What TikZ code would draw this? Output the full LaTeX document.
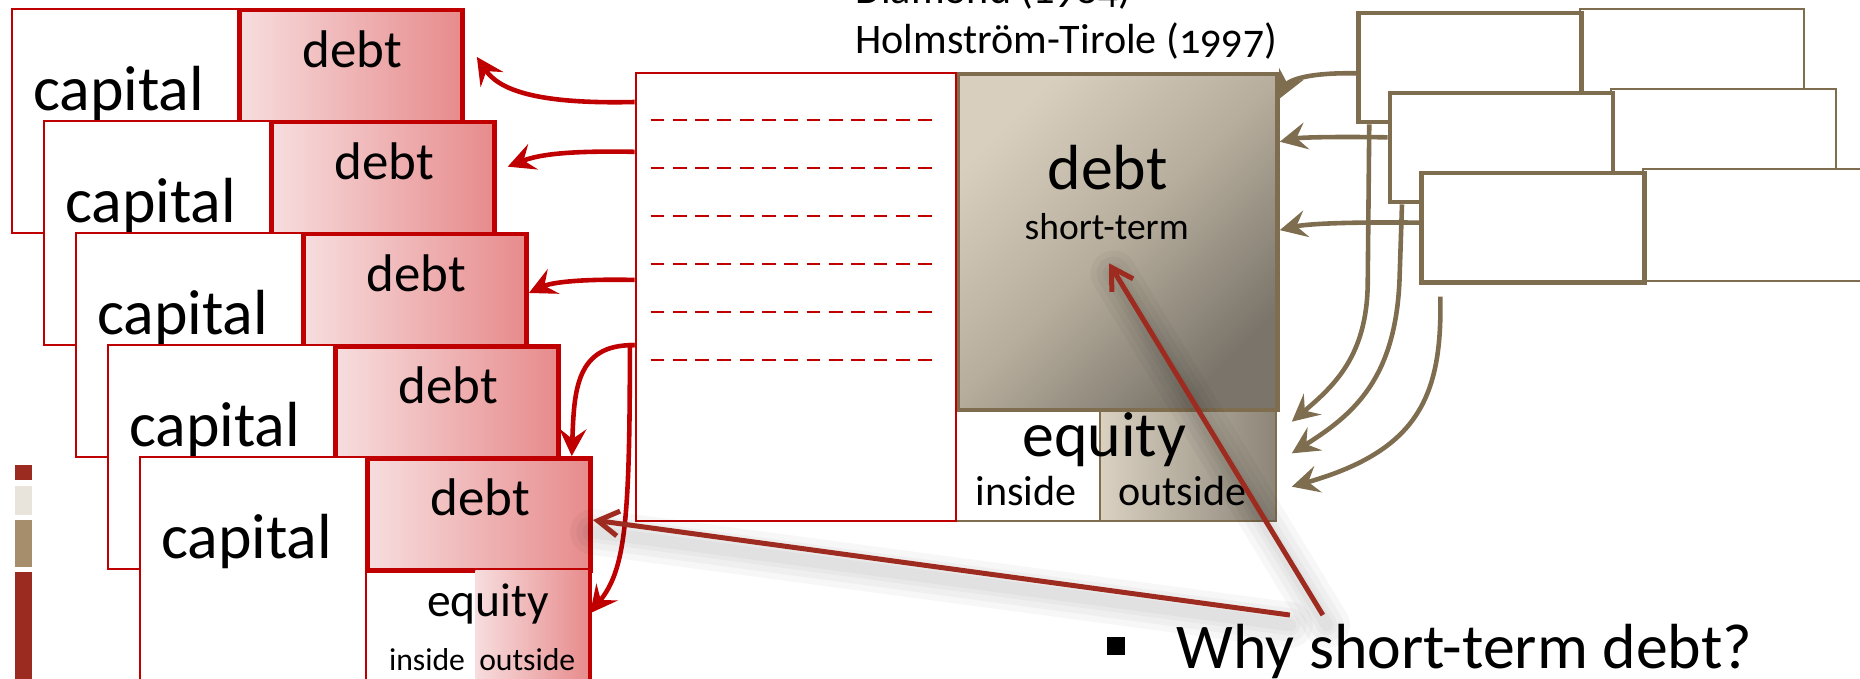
\documentclass[tikz,border=0pt]{standalone}
\usepackage{fontspec}
\setmainfont{Carlito}[Numbers=OldStyle]
\usetikzlibrary{arrows.meta,calc}

\definecolor{capred}{HTML}{C00000}
\definecolor{debtlight}{HTML}{F7DDDE}
\definecolor{debtdark}{HTML}{E78B8C}
\definecolor{linered}{HTML}{9E2B20}
\definecolor{brownline}{HTML}{7F6D4F}
\definecolor{stlight}{HTML}{D8CFBE}
\definecolor{stmid}{HTML}{B6AD9C}
\definecolor{stdark}{HTML}{7A746A}
\definecolor{eqlight}{HTML}{DAD1C1}
\definecolor{eqdark}{HTML}{8C8578}
\definecolor{barred}{HTML}{9B2B20}
\definecolor{barlight}{HTML}{E8E4DC}
\definecolor{bartan}{HTML}{A68E6C}

\newcommand\szbig{\fontsize{15.3}{18}\selectfont}
\newcommand\szdebt{\fontsize{12.7}{15}\selectfont}
\newcommand\szeq{\fontsize{11.4}{13}\selectfont}
\newcommand\szsub{\fontsize{10.1}{12}\selectfont}
\newcommand\szst{\fontsize{9}{11}\selectfont}
\newcommand\sztiny{\fontsize{7.6}{9}\selectfont}

\begin{document}
\begin{tikzpicture}[x=0.1mm, y=-0.1mm,
    capbox/.style={draw=capred, line width=0.45pt, fill=white, inner sep=0, anchor=north west, minimum width=19.1mm, minimum height=18.9mm},
    debtbox/.style={draw=capred, line width=1.1pt, left color=debtlight, right color=debtdark, inner sep=0, anchor=north west, minimum width=18.8mm, minimum height=9.45mm},
    eqsmall/.style={left color=debtlight, right color=debtdark, inner sep=0, anchor=north west, minimum width=9.6mm, minimum height=9.5mm},
    wbox/.style={draw=capred, line width=0.5pt, inner sep=0, anchor=north west, minimum width=27mm, minimum height=37.8mm},
    stbox/.style={draw=brownline, line width=1.1pt, top color=stlight, bottom color=stdark, middle color=stmid, shading angle=45, inner sep=0, anchor=north west, minimum width=27mm, minimum height=28.33mm},
    eqinbox/.style={draw=brownline, line width=0.45pt, fill=white, inner sep=0, anchor=north west, minimum width=12.17mm, minimum height=9.47mm},
    eqoutbox/.style={draw=brownline, line width=0.45pt, left color=eqlight, right color=eqdark, inner sep=0, anchor=north west, minimum width=14.83mm, minimum height=9.47mm},
    lbox/.style={draw=brownline, line width=1.1pt, fill=white, inner sep=0, anchor=north west, minimum width=18.8mm, minimum height=9.2mm},
    rbox/.style={draw=brownline, line width=0.5pt, fill=white, inner sep=0, anchor=north west, minimum width=18.9mm, minimum height=9.45mm},
    txt/.style={inner sep=0, anchor=base},
    dashline/.style={draw=capred, line width=0.45pt, dash pattern=on 3.3pt off 2.05pt},
    redarrow/.style={draw=capred, line width=1.1pt, -{Stealth[length=6.5pt,width=6.5pt,inset=2.4pt]}},
    brarrow/.style={draw=brownline, line width=1.1pt, -{Stealth[length=6.5pt,width=6.5pt,inset=2.4pt]}},
    pointer/.style={draw=linered, line width=1.2pt, -{Straight Barb[length=5pt,width=6pt]}},
    shadowline/.style={draw=black, opacity=0.03, line cap=round}]

\useasboundingbox (0,0) rectangle (1568,572);

%Legend bars

\fill[barred] (13,392) rectangle (27,405);
\fill[barlight] (13,410) rectangle (27,434);
\fill[bartan] (13,438) rectangle (27,478);
\fill[barred] (13,482) rectangle (27,580);

%Bank balance sheets

\foreach \i in {0,...,4} {
  \node[capbox] (cap\i) at (9+27*\i, 6.5+94.5*\i) {};
  \node[debtbox] (debt\i) at (200+27*\i, 6.5+94.5*\i) {};
  \node[txt, font=\szbig] (capt\i) at (100+27*\i, 93+94.5*\i) {capital};
  \node[txt, font=\szdebt] (debtt\i) at (297+27*\i, 57+94.5*\i) {debt};
}

\node[eqsmall] (eqout) at (400,480) {};
\draw[capred, line width=1.1pt] (eqout.north east) -- (eqout.south east);
\node[txt, font=\szeq] (eqt) at (411.5,520) {equity};
\node[txt, font=\sztiny] (inst) at (360,565) {inside};
\node[txt, font=\sztiny] (outst) at (444.5,565) {outside};

%Middle balance sheet

\node[eqinbox] (eqin) at (805,343.7) {};
\node[eqoutbox] (eqout2) at (926.7,343.7) {};
\node[stbox] (stdebt) at (805,60.4) {};
\node[wbox] (wbox) at (535,60.4) {};

\foreach \k in {0,...,5}
  \draw[dashline] (548.4,101.2+40.45*\k) -- (792,101.2+40.45*\k);

\node[txt, font=\szbig] (stdebtt) at (933.6,160) {debt};
\node[txt, font=\szst] (stlab) at (933,202) {short-term};
\node[txt, font=\szbig] (eqbig) at (931,385) {equity};
\node[txt, font=\szsub] (inbig) at (864.8,425.8) {inside};
\node[txt, font=\szsub] (outbig) at (996.7,425.8) {outside};

\node[txt, anchor=base west, font=\szsub] (diam) at (720.4,3) {Diamond (1984)};
\node[txt, anchor=base west, font=\szsub] (holm) at (720.4,45) {Holmström-Tirole (1997)};

%Red arrows

\coordinate (rt0) at (402,48);
\coordinate (rt1) at (428,140.5);

\draw[redarrow] (wbox.west |- 0,86) .. controls (450,88) and (420,75) .. (rt0);
\draw[redarrow] (wbox.west |- 0,128) .. controls (480,127) and (455,130) .. (rt1);
\draw[redarrow] (wbox.west |- 0,236) .. controls (490,235) and (465,238) .. (debt2.east |- 0,247);
\draw[redarrow] (wbox.west |- 0,291) .. controls (485,290) and (484,330) .. (debt4.north -| 482,0);
\draw[redarrow] (wbox.west |- 0,291) -- ++(-4,0) .. controls +(0,150) and (527,480) .. (eqout.east |- 0,517);

%Depositor balance sheets

\foreach \j in {0,1,2} {
  \node[rbox] (rr\j) at (1331+26.5*\j, 6.5+67.5*\j) {};
  \node[lbox] (rl\j) at (1143.2+26.5*\j, 9+67.5*\j) {};
}

%Brown arrows

\coordinate (bt0) at (1089,355.5);
\coordinate (bt1) at (1089,382.2);
\coordinate (bt2) at (1089,410.3);
\coordinate (bs2) at (1214.2,250.1);

\draw[brarrow] (rl0.west |- 0,61.8) .. controls (1095,61) and (1085,70) .. (stdebt.east |- 0,83);
\draw[brarrow] (rl1.west |- 0,115.8) .. controls (1120,115) and (1095,116) .. (stdebt.east |- 0,119.5);
\draw[brarrow] (rl2.west |- 0,187.7) .. controls (1130,187) and (1100,189) .. (stdebt.east |- 0,194);

\draw[brarrow] (rl0.south -| 1154.3,0) -- (1153,240) .. controls (1152,300) and (1125,325) .. (bt0);
\draw[brarrow] (rl1.south -| 1181.9,0) -- (1180,230) .. controls (1178,320) and (1140,350) .. (bt1);
\draw[brarrow] (bs2) .. controls (1216,335) and (1195,380) .. (bt2);

%Question

\node[fill=black, inner sep=0, minimum size=1.55mm] (bul) at (941,544.5) {};
\node[txt, anchor=base west, font=\szbig] (why) at (991.4,563.5) {Why short-term debt?};

\coordinate (q0) at (1087.4,518.5);
\coordinate (q1) at (1115.2,518.5);
\coordinate (lt1) at (935,222);

\foreach \w in {11pt,8pt,5pt,3pt} {
  \draw[shadowline, line width=\w, transform canvas={yshift=-2.4pt}] (q0) -- (debt4.east |- 0,440);
  \draw[shadowline, line width=\w, transform canvas={yshift=-2.4pt, xshift=1pt}] (q1) -- (lt1);
}

\draw[pointer] (q0) -- (debt4.east |- 0,438.4);
\draw[pointer] (q1) -- (lt1);

\end{tikzpicture}
\end{document}
